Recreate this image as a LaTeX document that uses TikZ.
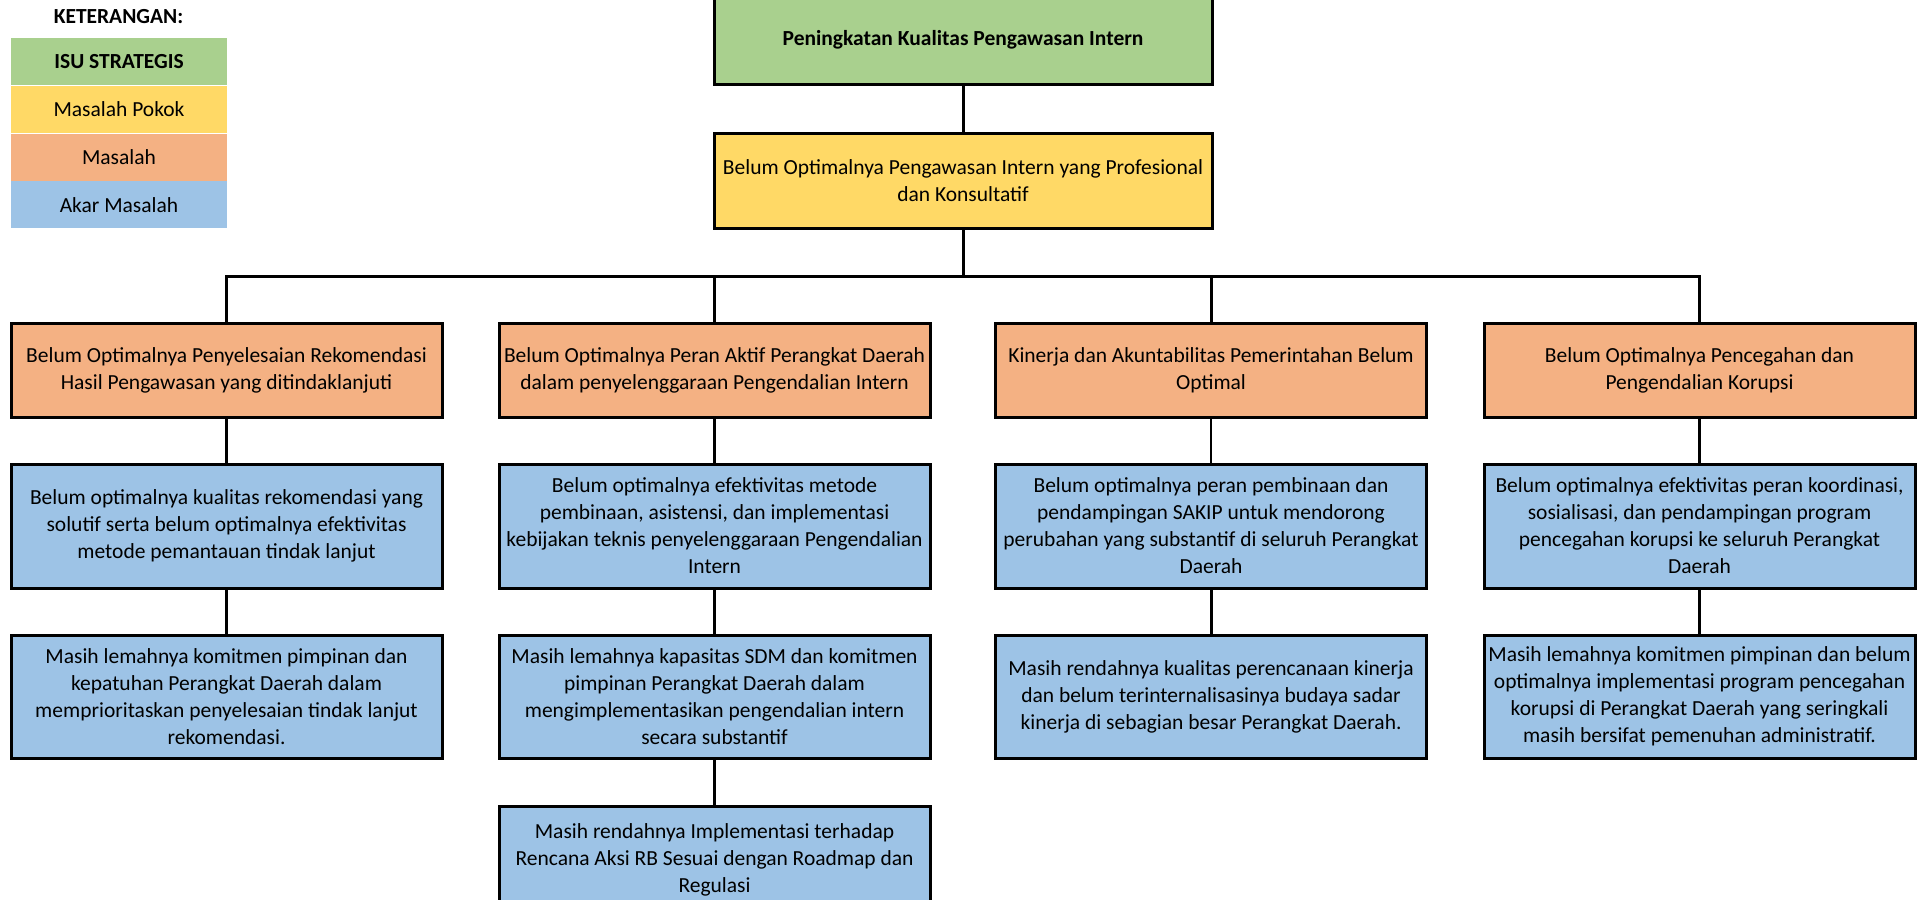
\documentclass[tikz,border=0pt]{standalone}
\usepackage{fontspec}
\setmainfont{Carlito}
\usepackage{xcolor}
\usepackage{tikz}
\usetikzlibrary{positioning}
\definecolor{isugreen}{RGB}{169,208,142}
\definecolor{pokokyellow}{RGB}{255,217,102}
\definecolor{masalahorange}{RGB}{244,177,131}
\definecolor{akarblue}{RGB}{157,195,230}

\begin{document}
\begin{tikzpicture}[x=0.5pt, y=-0.5pt,
    every node/.style={font=\fontsize{10.75pt}{13.5pt}\selectfont, align=center, inner sep=0pt},
    kotak/.style={draw=black, line width=1.5pt, minimum width=215.5pt},
    lebar/.style={draw=black, line width=1.5pt, minimum width=249pt},
    legenda/.style={minimum width=108pt, minimum height=23.5pt},
    garis/.style={draw=black, line width=1.5pt}]
  \useasboundingbox (0,0) rectangle (1925,899);

  % keterangan
  \node[font=\fontsize{10.75pt}{13.5pt}\selectfont\bfseries] (judul) at (118.5,17) {KETERANGAN:};
  \node[legenda, fill=isugreen] (lg1) at (119,61.5) {\textbf{ISU STRATEGIS}};
  \node[legenda, fill=pokokyellow, below=0pt of lg1] (lg2) {Masalah Pokok};
  \node[legenda, fill=masalahorange, below=0pt of lg2] (lg3) {Masalah};
  \node[legenda, fill=akarblue, below=0pt of lg3] (lg4) {Akar Masalah};

  % isu strategis dan masalah pokok
  \node[lebar, fill=isugreen, minimum height=45pt] (isu) at (963,40)
    {\textbf{Peningkatan Kualitas Pengawasan Intern}};
  \node[lebar, fill=pokokyellow, minimum height=47.5pt] (pokok) at (963,180.5)
    {Belum Optimalnya Pengawasan Intern yang Profesional\\dan Konsultatif};

  % masalah
  \node[kotak, fill=masalahorange, minimum height=47pt] (m1) at (226.5,370)
    {Belum Optimalnya Penyelesaian Rekomendasi\\Hasil Pengawasan yang ditindaklanjuti};
  \node[kotak, fill=masalahorange, minimum height=47pt] (m2) at (714.5,370)
    {Belum Optimalnya Peran Aktif Perangkat Daerah\\dalam penyelenggaraan Pengendalian Intern};
  \node[kotak, fill=masalahorange, minimum height=47pt] (m3) at (1211,370)
    {Kinerja dan Akuntabilitas Pemerintahan Belum\\Optimal};
  \node[kotak, fill=masalahorange, minimum height=47pt] (m4) at (1699.5,370)
    {Belum Optimalnya Pencegahan dan\\Pengendalian Korupsi};

  % akar masalah baris 1
  \node[kotak, fill=akarblue, minimum height=62pt] (a1) at (226.5,526)
    {Belum optimalnya kualitas rekomendasi yang\\solutif serta belum optimalnya efektivitas\\metode pemantauan tindak lanjut};
  \node[kotak, fill=akarblue, minimum height=62pt] (a2) at (714.5,526)
    {Belum optimalnya efektivitas metode\\pembinaan, asistensi, dan implementasi\\kebijakan teknis penyelenggaraan Pengendalian\\Intern};
  \node[kotak, fill=akarblue, minimum height=62pt] (a3) at (1211,526)
    {Belum optimalnya peran pembinaan dan\\pendampingan SAKIP untuk mendorong\\perubahan yang substantif di seluruh Perangkat\\Daerah};
  \node[kotak, fill=akarblue, minimum height=62pt] (a4) at (1699.5,526)
    {Belum optimalnya efektivitas peran koordinasi,\\sosialisasi, dan pendampingan program\\pencegahan korupsi ke seluruh Perangkat\\Daerah};

  % akar masalah baris 2
  \node[kotak, fill=akarblue, minimum height=61.5pt] (b1) at (226.5,696.5)
    {Masih lemahnya komitmen pimpinan dan\\kepatuhan Perangkat Daerah dalam\\memprioritaskan penyelesaian tindak lanjut\\rekomendasi.};
  \node[kotak, fill=akarblue, minimum height=61.5pt] (b2) at (714.5,696.5)
    {Masih lemahnya kapasitas SDM dan komitmen\\pimpinan Perangkat Daerah dalam\\mengimplementasikan pengendalian intern\\secara substantif};
  \node[kotak, fill=akarblue, minimum height=61.5pt] (b3) at (1211,696.5)
    {Masih rendahnya kualitas perencanaan kinerja\\dan belum terinternalisasinya budaya sadar\\kinerja di sebagian besar Perangkat Daerah.};
  \node[kotak, fill=akarblue, minimum height=61.5pt] (b4) at (1699.5,696.5)
    {Masih lemahnya komitmen pimpinan dan belum\\optimalnya implementasi program pencegahan\\korupsi di Perangkat Daerah yang seringkali\\masih bersifat pemenuhan administratif.};

  % akar masalah baris 3
  \node[kotak, fill=akarblue, minimum height=54pt] (c2) at (714.5,860)
    {Masih rendahnya Implementasi terhadap\\Rencana Aksi RB Sesuai dengan Roadmap dan\\Regulasi};

  % garis penghubung
  \coordinate (bus) at (963,276);
  \draw[garis] (isu) -- (pokok);
  \draw[garis] (pokok.south) -- (bus);
  \draw[garis] (m1.north) -- (m1.north |- bus) -- (m4.north |- bus) -- (m4.north);
  \foreach \i in {2,3}
    \draw[garis] (m\i.north) -- (m\i.north |- bus);
  \foreach \i in {1,2,4}
    \draw[garis] (m\i) -- (a\i);
  \draw[draw=black, line width=1pt] (m3) -- (a3);
  \foreach \i in {1,...,4}
    \draw[garis] (a\i) -- (b\i);
  \draw[garis] (b2) -- (c2);
\end{tikzpicture}
\end{document}
